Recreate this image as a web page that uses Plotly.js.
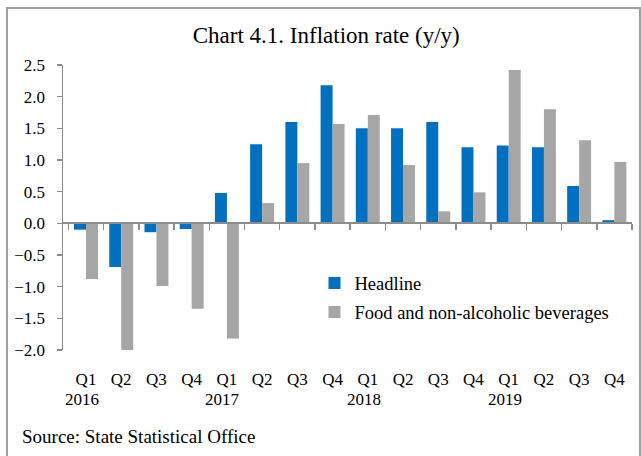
<!DOCTYPE html>
<html>
<head>
<meta charset="utf-8">
<script src="https://cdn.plot.ly/plotly-3.0.1.min.js"></script>
<style>html,body{margin:0;padding:0;background:#fff;}#chart{width:641px;height:456px;}</style>
</head>
<body>
<div id="chart"></div>
<script>
var categories = ["Q1 2016","Q2 2016","Q3 2016","Q4 2016","Q1 2017","Q2 2017","Q3 2017","Q4 2017","Q1 2018","Q2 2018","Q3 2018","Q4 2018","Q1 2019","Q2 2019","Q3 2019","Q4 2019"];
var quarterLabels = ["Q1","Q2","Q3","Q4","Q1","Q2","Q3","Q4","Q1","Q2","Q3","Q4","Q1","Q2","Q3","Q4"];
var yearLabels = ["2016","2017","2018","2019"];
var yearPositions = ["Q1 2016","Q1 2017","Q1 2018","Q1 2019"];
var headline = [-0.10,-0.69,-0.14,-0.09,0.48,1.25,1.60,2.18,1.50,1.50,1.60,1.20,1.23,1.20,0.59,0.05];
var food = [-0.88,-2.03,-0.99,-1.35,-1.82,0.32,0.95,1.57,1.71,0.92,0.19,0.49,2.42,1.80,1.31,0.97];
var zeroLine = categories.map(function(){return 0;});

var yMin = -2, yMax = 2.5;
var font = "Liberation Serif, Times New Roman, serif";

var traces = [
  {type:"bar", name:"Headline", x:categories, y:headline, marker:{color:"#0070C0"}, legendgroup:"a"},
  {type:"bar", name:"Food and non-alcoholic beverages", x:categories, y:food, marker:{color:"#A6A6A6"}, legendgroup:"b"},
  {type:"scatter", mode:"lines", x:categories, y:zeroLine, xaxis:"x2", yaxis:"y", line:{color:"rgba(0,0,0,0)", width:0}, showlegend:false, hoverinfo:"skip"}
];

var annotations = yearLabels.map(function(y, i){
  return {text:y, x:yearPositions[i], xref:"x", y:-0.175, yref:"paper", xanchor:"center", yanchor:"middle", xshift:-4, showarrow:false, font:{family:font, size:17, color:"#000"}};
});
annotations.push({text:"Source: State Statistical Office", x:-0.075, xref:"paper", y:-0.305, yref:"paper", xanchor:"left", yanchor:"middle", showarrow:false, font:{family:font, size:19, color:"#000"}});

var layout = {
  width:641, height:456,
  margin:{l:63, r:9, t:65, b:106},
  paper_bgcolor:"#fff", plot_bgcolor:"#fff",
  font:{family:font, size:16, color:"#000"},
  title:{text:"Chart 4.1. Inflation rate (y/y)", x:0.509, xref:"container", y:0.923, yref:"container", xanchor:"center", yanchor:"middle", font:{family:font, size:23, color:"#000"}},
  barmode:"group", bargap:0.32, bargroupgap:0,
  xaxis:{type:"category", categoryorder:"array", categoryarray:categories, tickmode:"array", tickvals:categories, ticktext:quarterLabels, showline:false, ticks:"", showgrid:false, zeroline:false, tickfont:{family:font, size:17, color:"#000"}, ticklabelstandoff:17},
  xaxis2:{type:"category", categoryorder:"array", categoryarray:categories, overlaying:"x", anchor:"free", position:(0 - yMin)/(yMax - yMin), matches:"x", showline:true, linecolor:"#8C8C8C", linewidth:2, ticks:"outside", tickson:"boundaries", ticklen:6, tickwidth:1.5, tickcolor:"#8C8C8C", showticklabels:false, showgrid:false, zeroline:false},
  yaxis:{range:[yMin, yMax], dtick:0.5, tick0:0, tickformat:".1f", ticks:"outside", ticklen:5, tickwidth:1.5, tickcolor:"#8C8C8C", showline:true, linecolor:"#8C8C8C", linewidth:1.5, showgrid:false, zeroline:false, tickfont:{family:font, size:17, color:"#000"}, ticklabelstandoff:8},
  legend:{x:0.442, xanchor:"left", y:0.3, yanchor:"top", bgcolor:"rgba(0,0,0,0)", traceorder:"grouped", tracegroupgap:2, font:{family:font, size:18.5, color:"#000"}, itemwidth:30},
  showlegend:true,
  annotations:annotations,
  shapes:[{type:"rect", xref:"paper", yref:"paper", x0:-0.0984, x1:1.014, y0:-0.6, y1:1.2, line:{color:"#A0A0A0", width:2}, fillcolor:"rgba(0,0,0,0)", layer:"below"}]
};

Plotly.newPlot("chart", traces, layout, {displayModeBar:false, staticPlot:true});
</script>
</body>
</html>
